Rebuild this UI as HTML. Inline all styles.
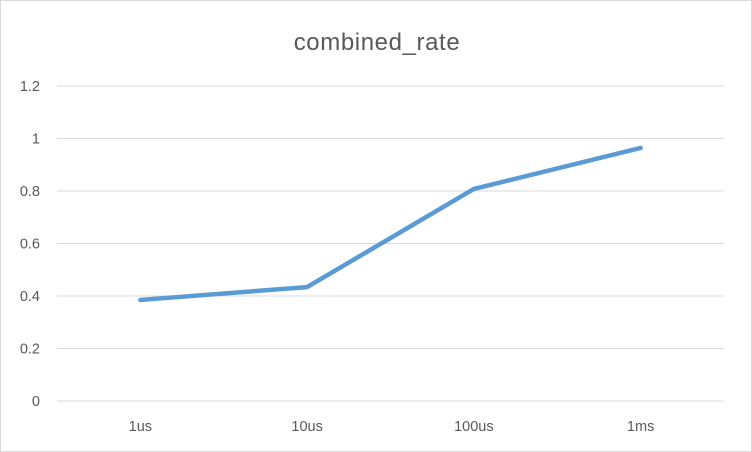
<!DOCTYPE html>
<html><head><meta charset="utf-8"><style>
html,body{margin:0;padding:0;background:#fff}
svg{display:block}
text{font-family:"Liberation Sans",sans-serif}
</style></head><body>
<svg id="chart" width="752" height="452" viewBox="0 0 752 452">
<rect x="0.5" y="0.5" width="751" height="451" fill="#fff" stroke="#d9d9d9"/>
<text x="377" y="50" text-anchor="middle" font-size="24" letter-spacing="0.6" fill="#595959">combined_rate</text>
<g id="grid"></g><g id="yt"></g><g id="xt"></g><g id="series"></g>
</svg>
<script>
const categories=["1us","10us","100us","1ms"];
const values=[0.385,0.434,0.808,0.964];
const yTicks=[0,0.2,0.4,0.6,0.8,1,1.2];
const yTickLabels=["0","0.2","0.4","0.6","0.8","1","1.2"];
const L=57,R=724,T=86,B=401,yMax=1.2;
const ns="http://www.w3.org/2000/svg";
function y(v){return B-(v/yMax)*(B-T);}
function x(i){const bw=(R-L)/categories.length;return L+bw*(i+0.5);}
function mk(t,a,p){const e=document.createElementNS(ns,t);for(const k in a)e.setAttribute(k,a[k]);document.getElementById(p).appendChild(e);return e;}
yTicks.forEach((v,i)=>{
 const g=mk("line",{x1:L,x2:R,y1:y(v),y2:y(v),stroke:"#d9d9d9","stroke-width":1},"grid");
 
 
 const t=mk("text",{x:40,y:y(v)+5,"text-anchor":"end","font-size":14.5,fill:"#595959"},"yt");
 t.textContent=yTickLabels[i];
 
 
});
categories.forEach((c,i)=>{
 const t=mk("text",{x:x(i),y:431,"text-anchor":"middle","font-size":14.5,fill:"#595959"},"xt");
 t.textContent=c;
 
 
});
const pts=values.map((v,i)=>x(i)+","+y(v)).join(" ");
const pl=mk("polyline",{points:pts,fill:"none",stroke:"#5b9bd5","stroke-width":4.5,"stroke-linejoin":"round","stroke-linecap":"round"},"series");


</script>
</body></html>
